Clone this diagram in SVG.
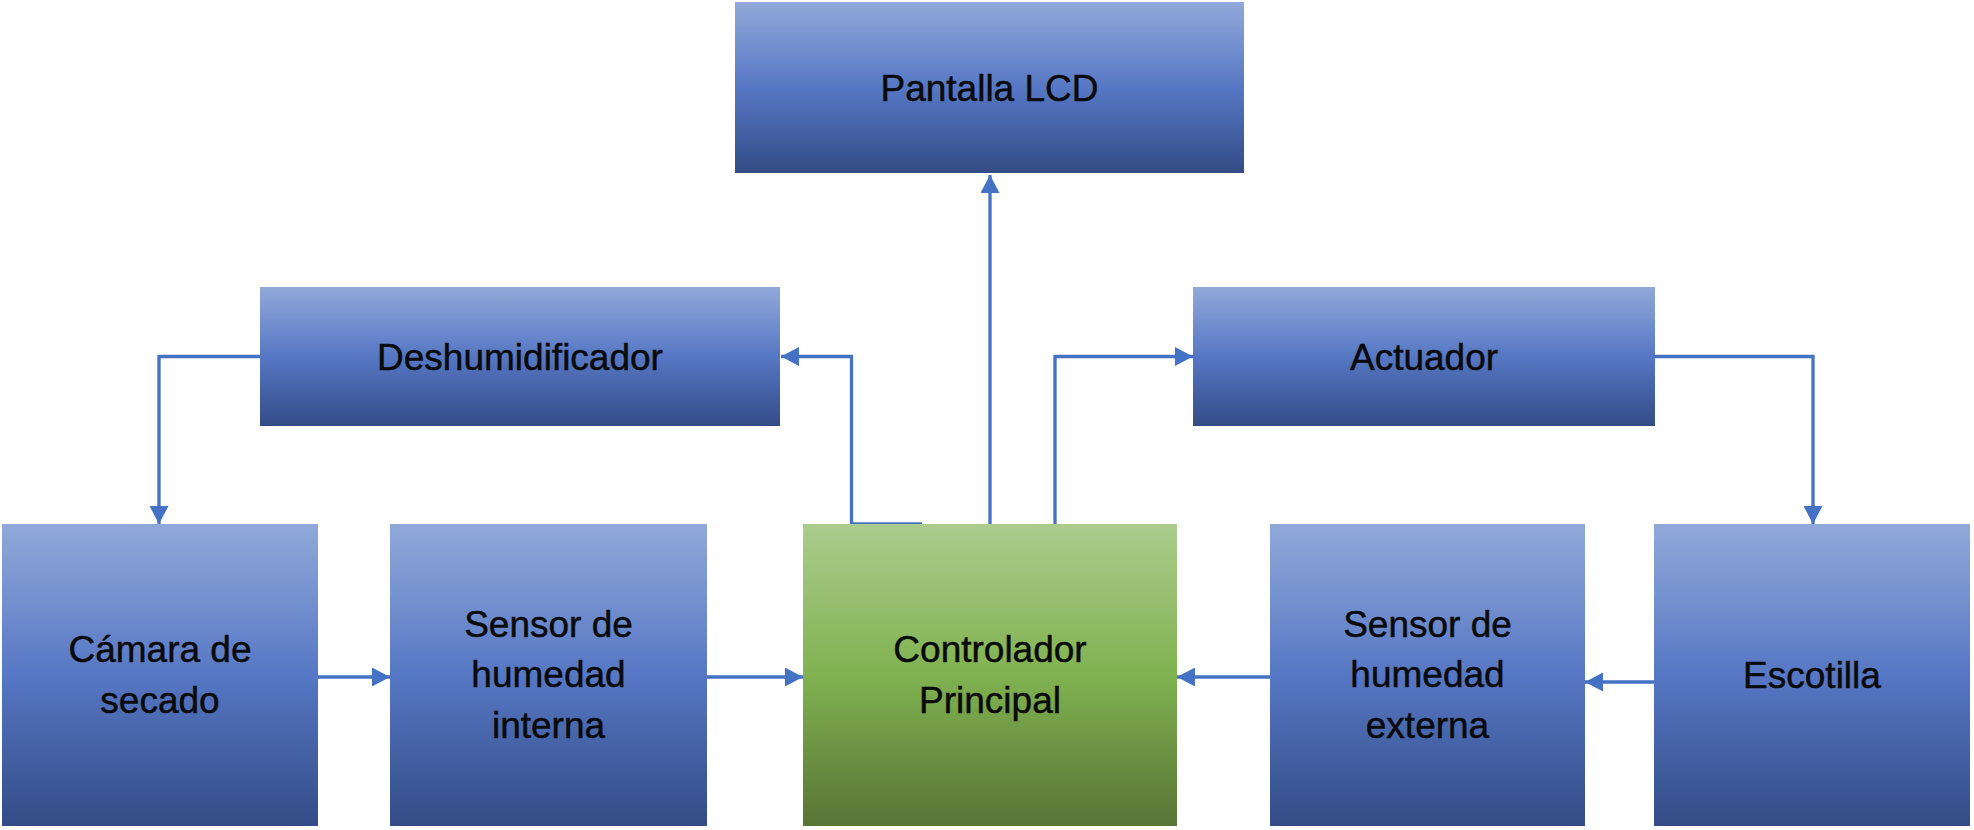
<svg xmlns="http://www.w3.org/2000/svg" width="1974" height="830" viewBox="0 0 1974 830">
  <defs>
    <linearGradient id="gBlue" x1="0" y1="0" x2="0" y2="1">
      <stop offset="0" stop-color="#91A9D9"/>
      <stop offset="0.5" stop-color="#5677C4"/>
      <stop offset="1" stop-color="#334C86"/>
    </linearGradient>
    <linearGradient id="gGreen" x1="0" y1="0" x2="0" y2="1">
      <stop offset="0" stop-color="#ABCC8D"/>
      <stop offset="0.5" stop-color="#80B250"/>
      <stop offset="1" stop-color="#587536"/>
    </linearGradient>
    <marker id="arr" markerUnits="userSpaceOnUse" markerWidth="18" markerHeight="19" refX="18" refY="9.5" orient="auto">
      <path d="M0,0 L18,9.5 L0,19 z" fill="#4472C4"/>
    </marker>
  </defs>
  <style>
    .blue { fill: url(#gBlue); }
    .green { fill: url(#gGreen); }
    .lbl { font-family: "Liberation Sans", Arial, sans-serif; font-size: 37px; fill: #0a0a0a; stroke: #0a0a0a; stroke-width: 0.5; text-anchor: middle; }
    .con { fill: none; stroke: #4472C4; stroke-width: 3.3; }
    .arrow { marker-end: url(#arr); }
  </style>
  <rect width="1974" height="830" fill="#ffffff"/>

  <g id="connectors">
    <path class="con arrow" d="M990,524 V175"/>
    <path class="con arrow" d="M922,524 H851.5 V356.5 H781"/>
    <path class="con arrow" d="M1055,524 V356.5 H1193"/>
    <path class="con arrow" d="M1655,356.5 H1813 V524"/>
    <path class="con arrow" d="M260,356.5 H159 V524"/>
    <path class="con arrow" d="M318,677 H390"/>
    <path class="con arrow" d="M707,677 H803"/>
    <path class="con arrow" d="M1270,677 H1177"/>
    <path class="con arrow" d="M1654,682 H1585"/>
  </g>

  <g id="pantalla">
    <rect class="blue" x="735" y="2" width="509" height="171"/>
    <text class="lbl" x="989.5" y="101">Pantalla LCD</text>
  </g>
  <g id="deshumidificador">
    <rect class="blue" x="260" y="287" width="520" height="139"/>
    <text class="lbl" x="520" y="370">Deshumidificador</text>
  </g>
  <g id="actuador">
    <rect class="blue" x="1193" y="287" width="462" height="139"/>
    <text class="lbl" x="1424" y="370">Actuador</text>
  </g>
  <g id="camara">
    <rect class="blue" x="2" y="524" width="316" height="302"/>
    <text class="lbl" x="160" y="662">Cámara de</text>
    <text class="lbl" x="160" y="713">secado</text>
  </g>
  <g id="sensor-interna">
    <rect class="blue" x="390" y="524" width="317" height="302"/>
    <text class="lbl" x="548.5" y="636.5">Sensor de</text>
    <text class="lbl" x="548.5" y="687">humedad</text>
    <text class="lbl" x="548.5" y="738">interna</text>
  </g>
  <g id="controlador">
    <rect class="green" x="803" y="524" width="374" height="302"/>
    <text class="lbl" x="990" y="662">Controlador</text>
    <text class="lbl" x="990" y="713">Principal</text>
  </g>
  <g id="sensor-externa">
    <rect class="blue" x="1270" y="524" width="315" height="302"/>
    <text class="lbl" x="1427.5" y="636.5">Sensor de</text>
    <text class="lbl" x="1427.5" y="687">humedad</text>
    <text class="lbl" x="1427.5" y="738">externa</text>
  </g>
  <g id="escotilla">
    <rect class="blue" x="1654" y="524" width="316" height="302"/>
    <text class="lbl" x="1812" y="688">Escotilla</text>
  </g>
</svg>
